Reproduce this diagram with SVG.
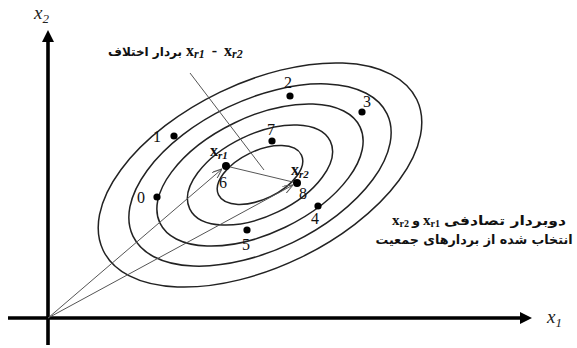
<svg xmlns="http://www.w3.org/2000/svg" width="577" height="348" viewBox="0 0 577 348">
<style>
.ring{fill:none;stroke:#222;stroke-width:1.5}
.axis{stroke:#000;stroke-width:3.6;fill:none}
.vec{stroke:#555;stroke-width:1;fill:none}
.dot{fill:#000}
.num{font-family:"Liberation Serif",serif;font-size:16px;fill:#111}
.lat{font-family:"Liberation Serif",serif;font-weight:bold;fill:#111}
.fa{font-family:"DejaVu Sans",sans-serif;font-weight:bold;fill:#111;text-anchor:middle}
.ax{font-family:"Liberation Serif",serif;font-style:italic;fill:#222}
</style>
<defs>
<marker id="big" viewBox="0 0 12 12" refX="2" refY="6" markerWidth="12" markerHeight="12" markerUnits="userSpaceOnUse" orient="auto">
<path d="M0,0 L12,6 L0,12 Z" fill="#000"/>
</marker>
<marker id="thin" viewBox="0 0 10 8" refX="10" refY="4" markerWidth="10" markerHeight="8" markerUnits="userSpaceOnUse" orient="auto">
<path d="M0,0 L10,4 L0,8" fill="none" stroke="#555" stroke-width="1"/>
</marker>
</defs>

<g id="contours" transform="translate(260,175) rotate(-25.7)">
<ellipse class="ring" rx="174" ry="92"/>
<ellipse class="ring" rx="141" ry="75"/>
<ellipse class="ring" rx="111" ry="58"/>
<ellipse class="ring" rx="78" ry="41"/>
<ellipse class="ring" rx="46" ry="24"/>
</g>

<g id="connectors">
<line class="axis" x1="48" y1="345" x2="48" y2="40" marker-end="url(#big)"/>
<line class="axis" x1="8" y1="318" x2="522" y2="318" marker-end="url(#big)"/>
<line class="vec" x1="48" y1="318" x2="222" y2="169" marker-end="url(#thin)"/>
<line class="vec" x1="48" y1="318" x2="293" y2="185" marker-end="url(#thin)"/>
<line class="vec" x1="226" y1="166" x2="297" y2="183"/>
<line class="vec" x1="190" y1="73" x2="264" y2="170"/>
</g>

<g id="axis-labels">
<text class="ax" x="34" y="19" font-size="19">x<tspan font-size="13" dy="4">2</tspan></text>
<text class="ax" x="547" y="323" font-size="19">x<tspan font-size="13" dy="4">1</tspan></text>
</g>

<g id="p0"><circle class="dot" cx="157" cy="197" r="3.6"/><text class="num" x="137" y="203">0</text></g>
<g id="p1"><circle class="dot" cx="174" cy="136" r="3.6"/><text class="num" x="153" y="142">1</text></g>
<g id="p2"><circle class="dot" cx="290" cy="96" r="3.6"/><text class="num" x="284" y="88">2</text></g>
<g id="p3"><circle class="dot" cx="362" cy="112" r="3.6"/><text class="num" x="363" y="107">3</text></g>
<g id="p4"><circle class="dot" cx="318" cy="206" r="3.6"/><text class="num" x="311" y="224">4</text></g>
<g id="p5"><circle class="dot" cx="247" cy="230" r="3.6"/><text class="num" x="242" y="250">5</text></g>
<g id="p7"><circle class="dot" cx="272" cy="141" r="3.6"/><text class="num" x="267" y="135">7</text></g>
<g id="xr1">
<circle class="dot" cx="226" cy="166" r="4"/>
<text class="lat" x="210" y="156" font-size="16">x<tspan font-size="11" font-style="italic" dy="3">r1</tspan></text>
<text class="num" x="219" y="188">6</text>
</g>
<g id="xr2">
<circle class="dot" cx="297" cy="183" r="4"/>
<text class="lat" x="291" y="175" font-size="16">x<tspan font-size="11" font-style="italic" dy="3">r2</tspan></text>
<text class="num" x="299" y="199">8</text>
</g>

<g id="label-diff">
<text class="fa" x="145" y="56" font-size="12">بردار اختلاف</text>
<text class="lat" x="186" y="56" font-size="16" word-spacing="3">x<tspan font-size="12" font-style="italic" dy="2">r1</tspan><tspan dy="-2"> - x</tspan><tspan font-size="12" font-style="italic" dy="2">r2</tspan></text>
</g>

<g id="label-random">
<text class="lat" x="392" y="225" font-size="15">x<tspan font-size="10" dy="2">r2</tspan></text>
<text class="fa" x="416" y="225" font-size="13">و</text>
<text class="lat" x="423" y="225" font-size="15">x<tspan font-size="10" dy="2">r1</tspan></text>
<text class="fa" transform="translate(505,225) scale(1.2,1)" font-size="13">دوبردار تصادفی</text>
<text class="fa" x="474" y="244" font-size="12.7">انتخاب شده از بردارهای جمعیت</text>
</g>
</svg>
